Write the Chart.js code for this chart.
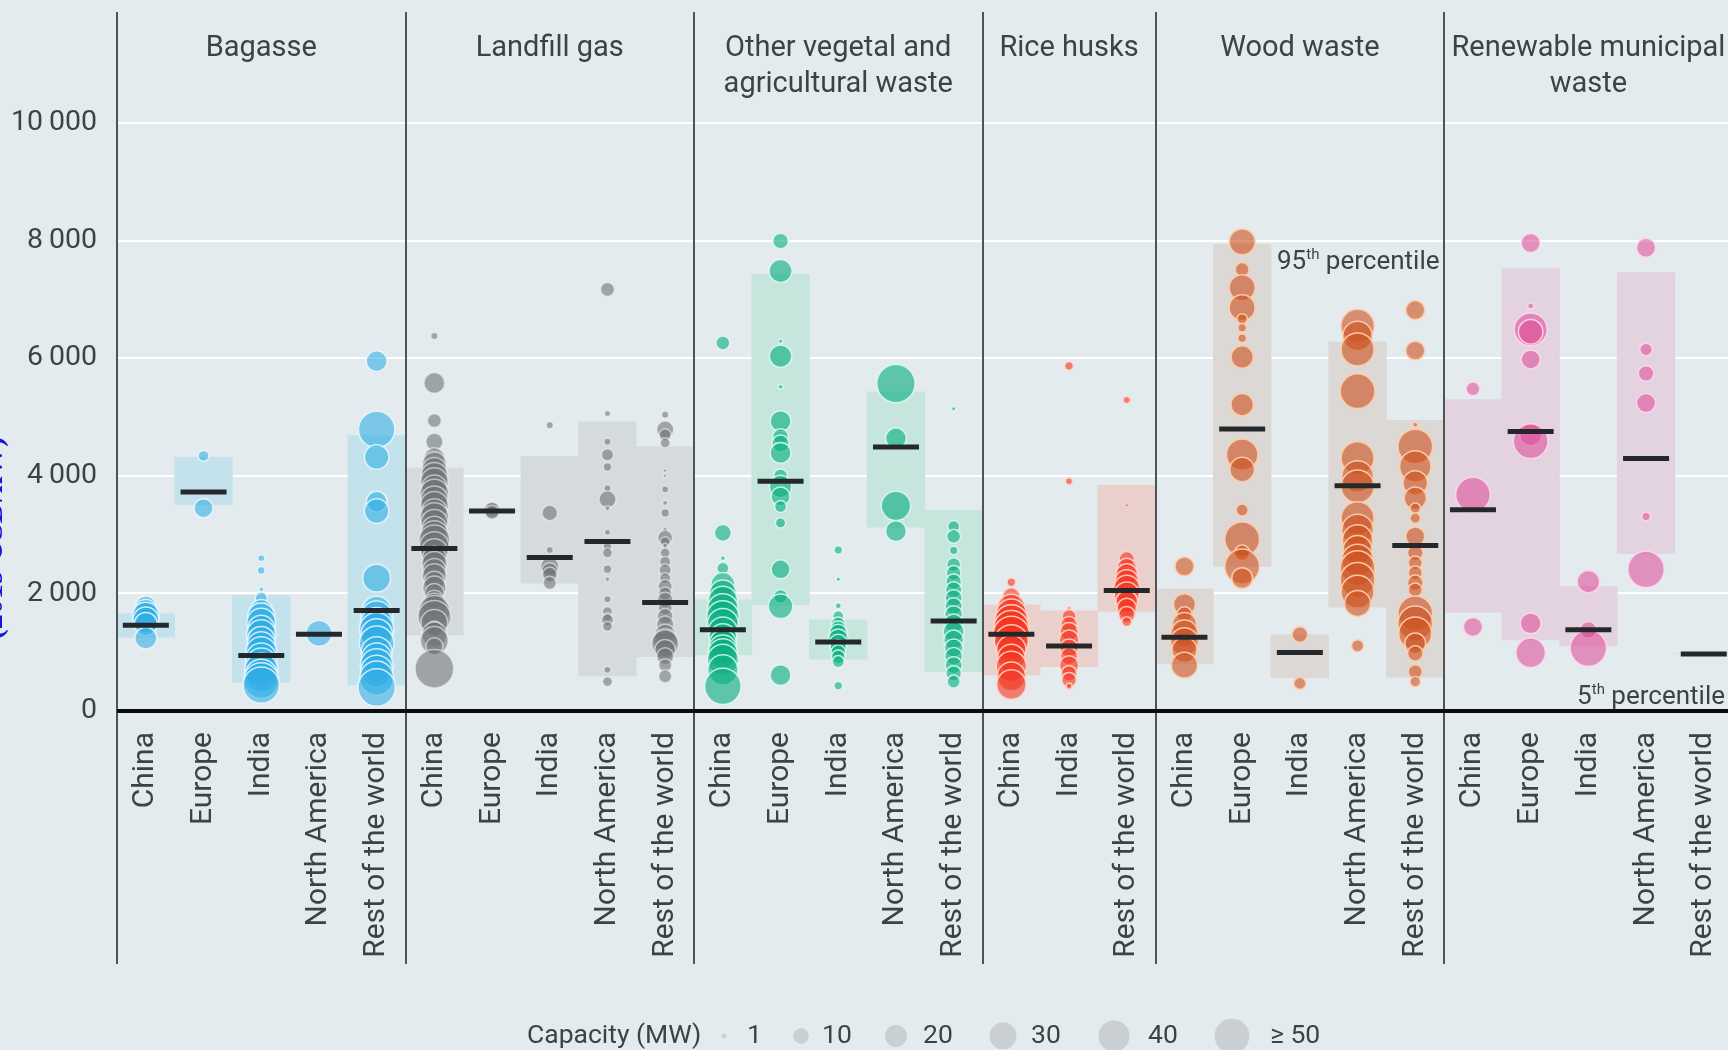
<!DOCTYPE html>
<html>
<head>
<meta charset="utf-8">
<script src="https://cdn.jsdelivr.net/npm/chart.js@4.4.1/dist/chart.umd.min.js"></script>
<style>
  html, body { margin: 0; padding: 0; background: #e4ebee; overflow: hidden; }
  #wrap { position: relative; width: 1728px; height: 1050px; }
</style>
</head>
<body>
<div id="wrap"><canvas id="chart" width="1728" height="1050"></canvas></div>
<script>
// ---- Feedstocks (panels) and the regions inside each panel ----
const FEEDSTOCK_TITLES = [
  ['Bagasse'],
  ['Landfill gas'],
  ['Other vegetal and', 'agricultural waste'],
  ['Rice husks'],
  ['Wood waste'],
  ['Renewable municipal', 'waste']
];
const FIVE_REGIONS = ['China', 'Europe', 'India', 'North America', 'Rest of the world'];
const RICE_REGIONS = ['China', 'India', 'Rest of the world'];
const PANEL_REGIONS = [FIVE_REGIONS, FIVE_REGIONS, FIVE_REGIONS, RICE_REGIONS, FIVE_REGIONS, FIVE_REGIONS];

// ---- Weighted median, 5th and 95th percentile per feedstock / region (2019 USD/kW) ----
const MEDIAN = [1460, 3725, 945, 1305, 1710,
                2765, 3400, 2612, 2885, 1846,
                1380, 3907, 1175, 4492, 1533,
                1306, 1107, 2050,
                1255, 4798, 994, 3833, 2817,
                3424, 4753, 1380, 4293, 971];
const P5 = [1255, 3509, 488, 1305, 443,
            1295, 3400, 2175, 596, 926,
            954, 1806, 880, 3129, 670,
            613, 755, 1692,
            801, 2459, 568, 1766, 574,
            1675, 1210, 1107, 2675, 971];
const P95 = [1652, 4316, 1965, 1305, 4685,
             4134, 3400, 4333, 4918, 4492,
             1891, 7428, 1550, 5429, 3413,
             1806, 1704, 3839,
             2073, 7939, 1295, 6281, 4946,
             5298, 7524, 2118, 7456, 971];

// ---- Individual projects: [installed cost USD/kW, capacity MW] ----
const bagasseChina = [[1780, 18], [1700, 22], [1620, 30], [1550, 28], [1480, 22], [1240, 20]];
const bagasseEurope = [[4340, 5], [3450, 15]];
const bagasseIndia = [[2600, 2], [2390, 2.5], [2070, 1], [1920, 6], [1700, 22], [1600, 32], [1500, 35], [1400, 30],
  [1300, 36], [1200, 32], [1100, 35], [1000, 40], [900, 38], [800, 42], [700, 46], [600, 45], [520, 52], [440, 55]];
const bagasseNorthAmerica = [[1320, 28]];
const bagasseRest = [[5950, 18], [4790, 55], [4320, 25], [3560, 18], [3400, 25], [2260, 32], [1700, 36], [1600, 42],
  [1480, 45], [1380, 50], [1300, 42], [1150, 50], [1000, 40], [900, 38], [780, 45], [680, 42], [560, 48], [400, 58]];

const landfillChina = [[6380, 2], [5580, 18], [4940, 8], [4580, 12], [4300, 18], [4200, 24], [4100, 26], [4000, 30],
  [3900, 32], [3800, 26], [3700, 34], [3600, 30], [3500, 32], [3400, 26], [3300, 34], [3200, 30], [3100, 26],
  [3000, 32], [2900, 40], [2800, 36], [2700, 30], [2600, 24], [2500, 26], [2400, 22], [2300, 24], [2200, 18],
  [2100, 22], [2000, 16], [1900, 14], [1800, 24], [1700, 40], [1600, 45], [1500, 30], [1400, 10], [1300, 26],
  [1200, 32], [1100, 12], [720, 62]];
const landfillEurope = [[3460, 5], [3420, 10], [3380, 8]];
const landfillIndia = [[4860, 2], [3370, 10], [2740, 2], [2460, 14], [2390, 10], [2320, 9], [2180, 7]];
const landfillNorthAmerica = [[7170, 8], [5060, 1.5], [4580, 2], [4360, 6], [4150, 3], [3790, 2], [3600, 12], [3450, 1],
  [3040, 1.5], [2800, 3], [2690, 4], [2410, 3], [2240, 0.8], [1900, 2], [1690, 4], [1600, 3], [1550, 6], [1440, 4],
  [700, 2], [500, 4]];
const landfillRest = [[5040, 2], [4790, 12], [4700, 6], [4560, 4], [4090, 0.5], [4000, 0.5], [3770, 2], [3540, 1],
  [3370, 3], [3080, 1], [2950, 9], [2880, 4], [2810, 1], [2690, 4], [2540, 5], [2400, 6], [2260, 5], [2120, 8],
  [2000, 7], [1890, 10], [1750, 8], [1610, 10], [1470, 12], [1300, 18], [1200, 24], [1150, 30], [1040, 18], [930, 12],
  [780, 7], [590, 7]];

const vegetalChina = [[6260, 8], [3030, 12], [2600, 1], [2430, 6], [2150, 24], [2000, 30], [1870, 36], [1730, 40],
  [1600, 44], [1480, 40], [1350, 36], [1250, 32], [1150, 30], [1050, 34], [980, 36], [870, 40], [700, 38], [420, 55]];
const vegetalEurope = [[7995, 10], [7484, 22], [6290, 0.8], [6036, 21], [5514, 1], [4930, 18], [4670, 10], [4550, 12],
  [4390, 18], [4000, 8], [3820, 21], [3650, 15], [3480, 6], [3200, 4.5], [2410, 15], [1950, 8], [1780, 25], [610, 18]];
const vegetalIndia = [[2740, 3], [2240, 0.8], [1790, 1.5], [1610, 5], [1480, 8], [1400, 10], [1320, 14], [1230, 16],
  [1150, 14], [1080, 11], [1000, 9], [920, 8], [840, 6], [430, 3]];
const vegetalNorthAmerica = [[5570, 61], [4640, 18], [3490, 36], [3060, 18]];
const vegetalRest = [[5140, 0.8], [3140, 6], [2970, 8], [2730, 3], [2490, 8], [2350, 9], [2200, 10], [2060, 11],
  [1920, 12], [1780, 12], [1640, 13], [1490, 15], [1350, 18], [1210, 16], [1070, 14], [930, 13], [780, 12], [640, 10], [500, 7]];

const riceChina = [[2190, 3], [1950, 12], [1750, 32], [1640, 40], [1520, 48], [1410, 52], [1300, 56], [1180, 48],
  [1040, 36], [900, 32], [760, 38], [590, 34], [450, 36]];
const riceIndia = [[5870, 3], [3910, 2], [1750, 0.5], [1610, 8], [1470, 11], [1350, 14], [1210, 16], [1070, 14],
  [930, 12], [780, 15], [640, 10], [530, 9], [420, 1.5]];
const riceRest = [[5290, 2], [3500, 0.5], [2580, 10], [2430, 16], [2320, 20], [2200, 24], [2090, 28], [1980, 26],
  [1860, 20], [1750, 16], [1640, 11], [1520, 4]];

const woodChina = [[2460, 15], [1810, 20], [1640, 10], [1470, 24], [1320, 30], [1180, 32], [1040, 26], [780, 28]];
const woodEurope = [[7980, 28], [7510, 8], [7200, 28], [6860, 28], [6670, 4.5], [6520, 3], [6340, 3], [6020, 21],
  [5210, 21], [4360, 41], [4110, 25], [3420, 6], [2920, 50], [2690, 10], [2460, 50], [2260, 18]];
const woodIndia = [[1300, 10], [470, 6]];
const woodNorthAmerica = [[6550, 46], [6380, 36], [6150, 45], [5440, 50], [4300, 45], [3990, 41], [3820, 45],
  [3280, 45], [3080, 41], [2910, 38], [2740, 35], [2570, 41], [2430, 50], [2230, 50], [2030, 45], [1830, 28], [1110, 6]];
const woodRest = [[6820, 15], [6130, 15], [4870, 1], [4500, 50], [4160, 41], [3880, 25], [3620, 21], [3450, 4.5],
  [3280, 4.5], [2970, 15], [2690, 10], [2520, 8], [2350, 8], [2180, 10], [2060, 8], [1660, 50], [1490, 50], [1320, 45],
  [1150, 18], [980, 10], [670, 8], [500, 4.5]];

const municipalChina = [[5480, 8], [3680, 50], [1430, 15]];
const municipalEurope = [[7960, 15], [6890, 1.5], [6490, 45], [6450, 25], [5980, 15], [4700, 20], [4590, 50], [1490, 18], [990, 36]];
const municipalIndia = [[2200, 21], [1380, 12], [1070, 55]];
const municipalNorthAmerica = [[7880, 15], [6150, 6.5], [5740, 10], [5240, 15], [3310, 3], [2410, 55]];
const municipalRest = [[970, 0.5]];

const Y_TICKS = [0, 2000, 4000, 6000, 8000, 10000];
const LEGEND_CAPACITIES = [1, 10, 20, 30, 40, 50];
const LEGEND_LABELS = ['1', '10', '20', '30', '40', '\u2265 50'];

// ---- Styling ----
const FONT = 'Roboto, "Open Sans", "Noto Sans", sans-serif';
const TEXT = '#3d4247';
const BG = '#e4ebee';
const BUBBLE_FILL = ['rgba(45,172,230,0.58)', 'rgba(110,115,118,0.6)', 'rgba(10,175,130,0.62)',
                     'rgba(245,50,30,0.6)', 'rgba(205,80,30,0.6)', 'rgba(220,70,150,0.55)'];
const BUBBLE_EDGE = ['rgba(235,248,255,0.85)', 'rgba(240,242,243,0.6)', 'rgba(225,250,240,0.85)',
                     'rgba(255,215,200,0.9)', 'rgba(255,205,170,0.95)', 'rgba(255,215,235,0.9)'];
const BAND_FILL = ['#c4e2ec', '#d5dadc', '#c6e5dd', '#e9d0cd', '#dcd8d5', '#e3d3e0'];
// legend layout: circle centres and label starts along the bottom row
const LEGEND_CIRCLE_X = [724, 801, 896, 1003, 1114, 1232];
const LEGEND_LABEL_X = [747, 822, 923, 1031, 1148, 1270];

const PLANTS = [
  bagasseChina, bagasseEurope, bagasseIndia, bagasseNorthAmerica, bagasseRest,
  landfillChina, landfillEurope, landfillIndia, landfillNorthAmerica, landfillRest,
  vegetalChina, vegetalEurope, vegetalIndia, vegetalNorthAmerica, vegetalRest,
  riceChina, riceIndia, riceRest,
  woodChina, woodEurope, woodIndia, woodNorthAmerica, woodRest,
  municipalChina, municipalEurope, municipalIndia, municipalNorthAmerica, municipalRest
];

const categoryLabels = PANEL_REGIONS.flat();
const panelStart = [];
const panelOfCategory = [];
PANEL_REGIONS.forEach((regions, p) => {
  panelStart.push(panelOfCategory.length);
  regions.forEach(() => panelOfCategory.push(p));
});

// bubble area proportional to capacity
const bubbleRadius = mw => 2.45 * Math.sqrt(mw);

const datasets = [];
datasets.push({
  type: 'line', order: 0,
  data: MEDIAN.map((v, i) => ({ x: i, y: v })),
  showLine: false,
  pointStyle: 'line', pointRadius: 23, pointHoverRadius: 23,
  pointBorderWidth: 5, pointHoverBorderWidth: 5,
  pointBorderColor: '#24282b', borderColor: '#24282b', pointBackgroundColor: '#24282b'
});
PANEL_REGIONS.forEach((regions, p) => {
  const data = [];
  regions.forEach((_, j) => {
    const i = panelStart[p] + j;
    PLANTS[i].forEach(([cost, mw]) => data.push({ x: i, y: cost, r: bubbleRadius(mw) }));
  });
  datasets.push({
    type: 'bubble', order: 1, data,
    backgroundColor: BUBBLE_FILL[p], borderColor: BUBBLE_EDGE[p], borderWidth: 1.5,
    hoverBorderWidth: 1.5, hoverRadius: 0
  });
});
datasets.push({
  type: 'bar', order: 2,
  data: categoryLabels.map((_, i) => ({ x: i, y: [P5[i], P95[i]] })),
  backgroundColor: categoryLabels.map((_, i) => BAND_FILL[panelOfCategory[i]]),
  barPercentage: 1, categoryPercentage: 1, borderWidth: 0
});

function formatThousands(v) {
  return String(v).replace(/\B(?=(\d{3})+(?!\d))/g, '\u2009');
}

function drawSuper(ctx, parts, x, y, align) {
  // parts: [text, isSuperscript]
  const widths = parts.map(([t, sup]) => {
    ctx.font = (sup ? '15px ' : '26px ') + FONT;
    return ctx.measureText(t).width;
  });
  const total = widths.reduce((a, b) => a + b, 0);
  let cx = align === 'right' ? x - total : x;
  ctx.textAlign = 'left';
  ctx.textBaseline = 'alphabetic';
  parts.forEach(([t, sup], k) => {
    ctx.font = (sup ? '15px ' : '26px ') + FONT;
    ctx.fillText(t, cx, sup ? y - 10 : y);
    cx += widths[k];
  });
}

const decor = {
  id: 'decor',
  beforeDraw(chart) {
    const { ctx, width, height } = chart;
    ctx.save();
    ctx.fillStyle = BG;
    ctx.fillRect(0, 0, width, height);
    ctx.restore();
  },
  afterDatasetsDraw(chart) {
    const { ctx, chartArea, scales: { x, y } } = chart;
    ctx.save();
    // panel separators
    ctx.strokeStyle = '#4d5357';
    ctx.lineWidth = 2;
    panelStart.forEach(s => {
      const px = Math.round(x.getPixelForValue(s - 0.5));
      ctx.beginPath();
      ctx.moveTo(px, chartArea.top);
      ctx.lineTo(px, chartArea.bottom + 253);
      ctx.stroke();
    });
    // zero baseline
    const y0 = y.getPixelForValue(0);
    ctx.strokeStyle = '#0c0c0c';
    ctx.lineWidth = 4;
    ctx.beginPath();
    ctx.moveTo(chartArea.left, y0);
    ctx.lineTo(chartArea.right, y0);
    ctx.stroke();
    ctx.restore();
  },
  afterDraw(chart) {
    const { ctx, scales: { x, y } } = chart;
    ctx.save();
    ctx.fillStyle = TEXT;

    // panel titles
    ctx.font = '29px ' + FONT;
    ctx.textAlign = 'center';
    ctx.textBaseline = 'middle';
    FEEDSTOCK_TITLES.forEach((lines, p) => {
      const a = x.getPixelForValue(panelStart[p] - 0.5);
      const b = x.getPixelForValue(panelStart[p] + PANEL_REGIONS[p].length - 0.5);
      lines.forEach((line, k) => ctx.fillText(line, (a + b) / 2, 49 + k * 36));
    });

    // percentile notes
    const woodEuropeIdx = panelStart[4] + 1;
    drawSuper(ctx, [['95', false], ['th', true], [' percentile', false]],
      x.getPixelForValue(woodEuropeIdx + 0.5) + 6, y.getPixelForValue(P95[woodEuropeIdx]) + 25, 'left');
    drawSuper(ctx, [['5', false], ['th', true], [' percentile', false]],
      chart.width - 3, y.getPixelForValue(0) - 7, 'right');

    // capacity legend
    const ly = 1036;
    ctx.font = '26.5px ' + FONT;
    ctx.textAlign = 'left';
    ctx.textBaseline = 'middle';
    ctx.fillText('Capacity (MW)', 527, ly);
    LEGEND_CAPACITIES.forEach((mw, k) => {
      ctx.fillStyle = '#c9cfd2';
      ctx.beginPath();
      ctx.arc(LEGEND_CIRCLE_X[k], ly, bubbleRadius(mw), 0, Math.PI * 2);
      ctx.fill();
      ctx.fillStyle = TEXT;
      ctx.fillText(LEGEND_LABELS[k], LEGEND_LABEL_X[k], ly);
    });

    // axis unit, running off the left edge
    ctx.save();
    ctx.translate(2, 538);
    ctx.rotate(-Math.PI / 2);
    ctx.fillStyle = '#1515e0';
    ctx.font = 'bold 30px "Liberation Serif", serif';
    ctx.textAlign = 'center';
    ctx.textBaseline = 'alphabetic';
    ctx.fillText('(2019 USD/kW)', 0, 0);
    ctx.restore();

    ctx.restore();
  }
};

new Chart(document.getElementById('chart'), {
  type: 'bubble',
  data: { datasets },
  options: {
    responsive: false,
    animation: false,
    events: [],
    devicePixelRatio: 1,
    layout: { autoPadding: false, padding: { top: 12, left: 0, right: 0, bottom: 0 } },
    plugins: { legend: { display: false }, tooltip: { enabled: false }, title: { display: false } },
    scales: {
      x: {
        type: 'linear', min: -0.5, max: 27.42, offset: false,
        grid: { display: false, drawTicks: false, offset: false },
        border: { display: false },
        afterBuildTicks: s => { s.ticks = categoryLabels.map((_, i) => ({ value: i })); },
        afterFit: s => { s.height = 339; s.paddingLeft = 0; s.paddingRight = 0; },
        ticks: {
          autoSkip: false, minRotation: 90, maxRotation: 90, padding: 21,
          color: TEXT, font: { family: FONT, size: 30 },
          callback: v => categoryLabels[v]
        }
      },
      y: {
        type: 'linear', min: 0, max: 11890,
        grid: { color: '#ffffff', lineWidth: 2, drawTicks: false },
        border: { display: false },
        afterBuildTicks: s => { s.ticks = Y_TICKS.map(v => ({ value: v })); },
        afterFit: s => { s.width = 117; s.paddingTop = 0; s.paddingBottom = 0; },
        ticks: {
          padding: 20, color: TEXT, font: { family: FONT, size: 28.5 },
          callback: v => formatThousands(v)
        }
      }
    }
  },
  plugins: [decor]
});
</script>
</body>
</html>
